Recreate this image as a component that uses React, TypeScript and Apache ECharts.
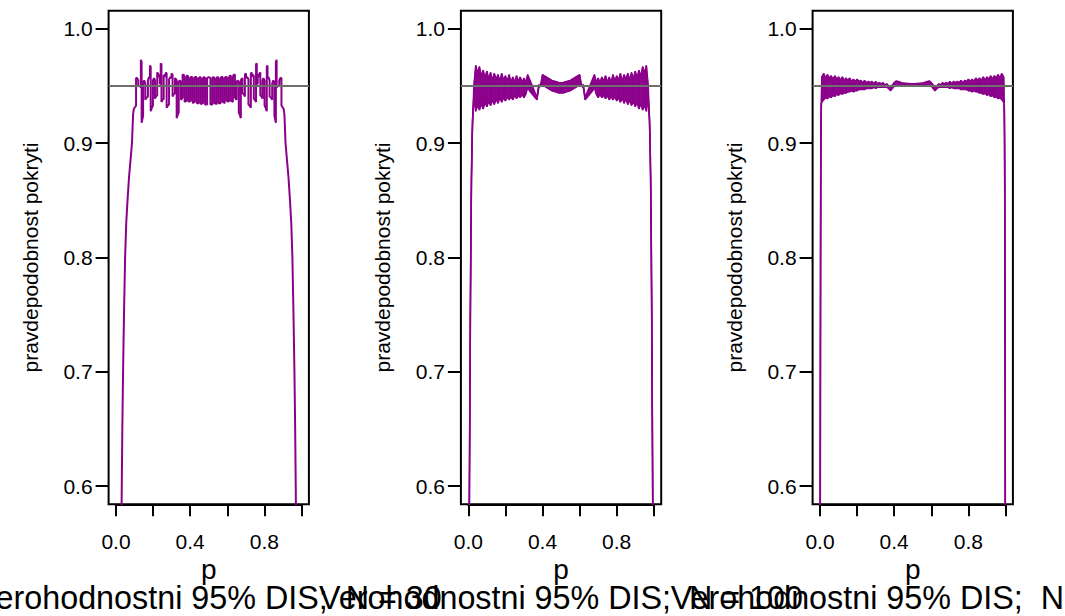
import { useEffect, useRef } from 'react';
import * as echarts from 'echarts';

const PURPLE = '#8B008B';
const GRAY = '#6E6E6E';
const FONT = '"Liberation Sans", Arial, Helvetica, sans-serif';

const panelTitles = [
  'Verohodnostni 95% DIS;  N = 30',
  'Verohodnostni 95% DIS;  N = 100',
  'Verohodnostni 95% DIS;  N = 500',
];
const xTitle = 'p';
const yTitle = 'pravdepodobnost pokryti';
const xTickValues = [0, 0.4, 0.8];
const xTickLabels = ['0.0', '0.4', '0.8'];
const yTickValues = [0.6, 0.7, 0.8, 0.9, 1.0];
const yTickLabels = ['0.6', '0.7', '0.8', '0.9', '1.0'];
const targetLevel = 0.95;

// Panel 1 (N = 30): coverage curve points [p, coverage]
const cov30: number[][] = [
  [0.029, 0.56], [0.031, 0.6], [0.034, 0.65], [0.038, 0.7], [0.043, 0.75], [0.049, 0.8], [0.055, 0.83], [0.062, 0.85],
  [0.07, 0.87], [0.078, 0.885], [0.086, 0.9], [0.092, 0.925], [0.096, 0.93],
  [0.1, 0.931], [0.104, 0.932], [0.108, 0.933], [0.108, 0.957], [0.114, 0.957], [0.12, 0.955], [0.12, 0.95], [0.127, 0.95],
  [0.134, 0.949], [0.134, 0.973], [0.138, 0.971], [0.138, 0.918], [0.142, 0.921], [0.146, 0.924], [0.146, 0.953],
  [0.152, 0.955], [0.158, 0.952], [0.158, 0.938], [0.165, 0.94], [0.172, 0.941], [0.172, 0.955], [0.178, 0.958],
  [0.183, 0.957], [0.183, 0.968], [0.187, 0.967], [0.187, 0.928], [0.193, 0.931], [0.199, 0.933], [0.199, 0.955],
  [0.205, 0.957], [0.21, 0.955], [0.21, 0.939], [0.216, 0.941], [0.222, 0.942], [0.222, 0.962], [0.23, 0.96],
  [0.236, 0.957], [0.236, 0.952], [0.241, 0.952], [0.241, 0.97], [0.245, 0.969], [0.245, 0.936], [0.251, 0.938],
  [0.257, 0.939], [0.257, 0.959], [0.263, 0.96], [0.268, 0.958], [0.268, 0.962], [0.273, 0.961], [0.273, 0.931],
  [0.28, 0.933], [0.286, 0.934], [0.286, 0.956], [0.293, 0.958], [0.299, 0.957], [0.299, 0.961], [0.305, 0.96],
  [0.305, 0.941], [0.312, 0.943], [0.318, 0.944], [0.318, 0.957], [0.324, 0.956], [0.327, 0.955], [0.327, 0.922],
  [0.333, 0.925], [0.338, 0.927], [0.338, 0.954], [0.345, 0.955], [0.35, 0.953], [0.35, 0.938], [0.355, 0.939],
  [0.359, 0.94], [0.359, 0.96], [0.365, 0.96], [0.37, 0.958], [0.37, 0.936], [0.376, 0.937], [0.381, 0.937],
  [0.381, 0.959], [0.387, 0.959], [0.392, 0.957], [0.392, 0.936], [0.398, 0.937], [0.403, 0.937], [0.403, 0.958],
  [0.409, 0.958], [0.414, 0.957], [0.414, 0.935], [0.42, 0.936], [0.425, 0.936], [0.425, 0.958], [0.431, 0.958],
  [0.436, 0.957], [0.436, 0.935], [0.442, 0.935], [0.447, 0.935], [0.447, 0.957], [0.453, 0.958], [0.458, 0.957],
  [0.458, 0.934], [0.464, 0.935], [0.469, 0.935], [0.469, 0.957], [0.475, 0.958], [0.48, 0.957], [0.48, 0.934],
  [0.486, 0.934], [0.491, 0.934], [0.491, 0.957], [0.5, 0.958],
  [0.509, 0.957], [0.509, 0.934], [0.514, 0.934], [0.52, 0.934], [0.52, 0.957], [0.525, 0.958], [0.531, 0.957],
  [0.531, 0.935], [0.536, 0.935], [0.542, 0.934], [0.542, 0.957], [0.547, 0.958], [0.553, 0.957], [0.553, 0.935],
  [0.558, 0.935], [0.564, 0.935], [0.564, 0.957], [0.569, 0.958], [0.575, 0.958], [0.575, 0.936], [0.58, 0.936],
  [0.586, 0.935], [0.586, 0.957], [0.591, 0.958], [0.597, 0.958], [0.597, 0.937], [0.602, 0.937], [0.608, 0.936],
  [0.608, 0.957], [0.613, 0.959], [0.619, 0.959], [0.619, 0.937], [0.624, 0.937], [0.63, 0.936], [0.63, 0.958],
  [0.635, 0.96], [0.641, 0.96], [0.641, 0.94], [0.645, 0.939], [0.65, 0.938], [0.65, 0.953], [0.655, 0.955],
  [0.662, 0.954], [0.662, 0.927], [0.667, 0.925], [0.673, 0.922], [0.673, 0.955], [0.676, 0.956], [0.682, 0.957],
  [0.682, 0.944], [0.688, 0.943], [0.695, 0.941], [0.695, 0.96], [0.701, 0.961], [0.701, 0.957], [0.707, 0.958],
  [0.714, 0.956], [0.714, 0.934], [0.72, 0.933], [0.727, 0.931], [0.727, 0.961], [0.732, 0.962], [0.732, 0.958],
  [0.737, 0.96], [0.743, 0.959], [0.743, 0.939], [0.749, 0.938], [0.755, 0.936], [0.755, 0.969], [0.759, 0.97],
  [0.759, 0.952], [0.764, 0.952], [0.764, 0.957], [0.77, 0.96], [0.778, 0.962], [0.778, 0.942], [0.784, 0.941],
  [0.79, 0.939], [0.79, 0.955], [0.795, 0.957], [0.801, 0.955], [0.801, 0.933], [0.807, 0.931], [0.813, 0.928],
  [0.813, 0.967], [0.817, 0.968], [0.817, 0.957], [0.822, 0.958], [0.828, 0.955], [0.828, 0.941], [0.835, 0.94],
  [0.842, 0.938], [0.842, 0.952], [0.848, 0.955], [0.854, 0.953], [0.854, 0.924], [0.858, 0.921], [0.862, 0.918],
  [0.862, 0.971], [0.866, 0.973], [0.866, 0.949], [0.873, 0.95], [0.88, 0.95], [0.88, 0.955], [0.886, 0.957],
  [0.892, 0.957], [0.892, 0.933], [0.896, 0.932], [0.9, 0.931],
  [0.904, 0.93], [0.908, 0.925], [0.914, 0.9], [0.922, 0.885], [0.93, 0.87], [0.938, 0.85], [0.945, 0.83],
  [0.951, 0.8], [0.957, 0.75], [0.962, 0.7], [0.966, 0.65], [0.969, 0.6], [0.971, 0.56],
];

// Panel 2 (N = 100): lower and upper envelope of the rapidly oscillating coverage
const p100 = [
  0.005, 0.008, 0.011, 0.014, 0.017, 0.02, 0.023, 0.026,
  0.03, 0.04, 0.05, 0.06, 0.07, 0.08, 0.09, 0.1, 0.11, 0.12, 0.13, 0.14, 0.15, 0.16, 0.17, 0.18, 0.19, 0.2,
  0.21, 0.22, 0.23, 0.24, 0.25, 0.26, 0.27, 0.28, 0.29, 0.3, 0.31, 0.32, 0.33, 0.34, 0.35, 0.36, 0.37, 0.38,
  0.39, 0.4, 0.41, 0.42, 0.43, 0.44, 0.45, 0.46, 0.47, 0.48, 0.49, 0.5,
  0.51, 0.52, 0.53, 0.54, 0.55, 0.56, 0.57, 0.58, 0.59, 0.6, 0.61, 0.62, 0.63, 0.64, 0.65, 0.66, 0.67, 0.68,
  0.69, 0.7, 0.71, 0.72, 0.73, 0.74, 0.75, 0.76, 0.77, 0.78, 0.79, 0.8, 0.81, 0.82, 0.83, 0.84, 0.85, 0.86,
  0.87, 0.88, 0.89, 0.9, 0.91, 0.92, 0.93, 0.94, 0.95, 0.96, 0.97,
  0.974, 0.977, 0.98, 0.983, 0.986, 0.989, 0.992, 0.995,
];
const hi100 = [
  0.57, 0.66, 0.75, 0.82, 0.87, 0.9, 0.92, 0.93,
  0.95, 0.968, 0.961, 0.967, 0.958, 0.964, 0.957, 0.963, 0.956, 0.962,
  0.955, 0.961, 0.956, 0.96, 0.954, 0.961, 0.955, 0.959, 0.954, 0.96,
  0.953, 0.958, 0.953, 0.959, 0.954, 0.958, 0.953, 0.957, 0.953, 0.96,
  0.956, 0.952, 0.948, 0.944, 0.94, 0.951, 0.951, 0.96, 0.959, 0.958,
  0.957, 0.956, 0.955, 0.9545, 0.954, 0.9535, 0.953, 0.953,
  0.953, 0.9535, 0.954, 0.9545, 0.955, 0.956, 0.957,
  0.958, 0.959, 0.96, 0.951, 0.951, 0.94, 0.944, 0.948, 0.952, 0.956,
  0.96, 0.953, 0.957, 0.953, 0.958, 0.954, 0.959, 0.953, 0.958, 0.953,
  0.96, 0.954, 0.959, 0.955, 0.961, 0.954, 0.96, 0.956, 0.961, 0.955,
  0.962, 0.956, 0.963, 0.957, 0.964, 0.958, 0.967, 0.961, 0.968, 0.95,
  0.93, 0.92, 0.9, 0.87, 0.82, 0.75, 0.66, 0.57,
];
const lo100 = [
  0.57, 0.66, 0.75, 0.82, 0.87, 0.9, 0.92, 0.93,
  0.94, 0.928, 0.934, 0.929, 0.935, 0.93, 0.936, 0.932, 0.937, 0.933,
  0.938, 0.934, 0.939, 0.935, 0.94, 0.936, 0.94, 0.937, 0.941, 0.938,
  0.941, 0.938, 0.942, 0.939, 0.942, 0.94, 0.943, 0.94, 0.943, 0.949,
  0.946, 0.944, 0.942, 0.94, 0.938, 0.949, 0.95, 0.951, 0.95, 0.949,
  0.948, 0.947, 0.946, 0.9455, 0.945, 0.9445, 0.944, 0.944,
  0.944, 0.9445, 0.945, 0.9455, 0.946, 0.947, 0.948,
  0.949, 0.95, 0.951, 0.95, 0.949, 0.938, 0.94, 0.942, 0.944, 0.946,
  0.949, 0.943, 0.94, 0.943, 0.94, 0.942, 0.939, 0.942, 0.938, 0.941,
  0.938, 0.941, 0.937, 0.94, 0.936, 0.94, 0.935, 0.939, 0.934, 0.938,
  0.933, 0.937, 0.932, 0.936, 0.93, 0.935, 0.929, 0.934, 0.928, 0.94,
  0.93, 0.92, 0.9, 0.87, 0.82, 0.75, 0.66, 0.57,
];

// Panel 3 (N = 500)
const p500 = [
  0.001, 0.002, 0.003, 0.004, 0.005, 0.006, 0.007,
  0.01, 0.02, 0.03, 0.04, 0.05, 0.06, 0.07, 0.08, 0.09, 0.1, 0.11, 0.12, 0.13, 0.14, 0.15, 0.16, 0.17, 0.18,
  0.19, 0.2, 0.21, 0.22, 0.23, 0.24, 0.25, 0.26, 0.27, 0.28, 0.29, 0.3, 0.31, 0.32, 0.33, 0.34, 0.35, 0.36,
  0.37, 0.38, 0.39, 0.4, 0.41, 0.42, 0.43, 0.44, 0.45, 0.46, 0.47, 0.48, 0.49, 0.5,
  0.51, 0.52, 0.53, 0.54, 0.55, 0.56, 0.57, 0.58, 0.59, 0.6, 0.61, 0.62, 0.63, 0.64, 0.65, 0.66, 0.67, 0.68,
  0.69, 0.7, 0.71, 0.72, 0.73, 0.74, 0.75, 0.76, 0.77, 0.78, 0.79, 0.8, 0.81, 0.82, 0.83, 0.84, 0.85, 0.86,
  0.87, 0.88, 0.89, 0.9, 0.91, 0.92, 0.93, 0.94, 0.95, 0.96, 0.97, 0.98, 0.99,
  0.993, 0.994, 0.995, 0.996, 0.997, 0.998, 0.999,
];
const hi500 = [
  0.57, 0.7, 0.8, 0.87, 0.905, 0.925, 0.935,
  0.958, 0.961, 0.957, 0.96, 0.957, 0.959, 0.956, 0.959, 0.956, 0.958,
  0.955, 0.958, 0.955, 0.957, 0.955, 0.957, 0.954, 0.956, 0.954, 0.956,
  0.954, 0.955, 0.953, 0.955, 0.953, 0.954, 0.953, 0.954, 0.952, 0.954,
  0.952, 0.953, 0.952, 0.953, 0.951, 0.952, 0.95, 0.948, 0.951, 0.953,
  0.9545, 0.954, 0.9535, 0.953, 0.9527, 0.9525, 0.9523, 0.9522, 0.9521, 0.9521,
  0.9521, 0.9522, 0.9523, 0.9525, 0.9527, 0.953, 0.9535, 0.954, 0.9545,
  0.953, 0.951, 0.948, 0.95, 0.952, 0.951, 0.953, 0.952, 0.953, 0.952,
  0.954, 0.952, 0.954, 0.953, 0.954, 0.953, 0.955, 0.953, 0.955, 0.954,
  0.956, 0.954, 0.956, 0.954, 0.957, 0.955, 0.957, 0.955, 0.958, 0.955,
  0.958, 0.956, 0.959, 0.956, 0.959, 0.957, 0.96, 0.957, 0.961, 0.958,
  0.935, 0.925, 0.905, 0.87, 0.8, 0.7, 0.57,
];
const lo500 = [
  0.57, 0.7, 0.8, 0.87, 0.905, 0.925, 0.935,
  0.936, 0.938, 0.94, 0.939, 0.941, 0.94, 0.942, 0.941, 0.943, 0.942,
  0.944, 0.943, 0.944, 0.944, 0.945, 0.945, 0.946, 0.945, 0.946, 0.946,
  0.947, 0.947, 0.947, 0.947, 0.948, 0.948, 0.948, 0.948, 0.949, 0.948,
  0.949, 0.949, 0.949, 0.949, 0.949, 0.949, 0.948, 0.946, 0.948, 0.95,
  0.9505, 0.9505, 0.9505, 0.9505, 0.9505, 0.9505, 0.9505, 0.9505, 0.9505, 0.9505,
  0.9505, 0.9505, 0.9505, 0.9505, 0.9505, 0.9505, 0.9505, 0.9505, 0.9505,
  0.95, 0.948, 0.946, 0.948, 0.949, 0.949, 0.949, 0.949, 0.949, 0.949,
  0.948, 0.949, 0.948, 0.948, 0.948, 0.948, 0.947, 0.947, 0.947, 0.947,
  0.946, 0.946, 0.945, 0.946, 0.945, 0.945, 0.944, 0.944, 0.943, 0.944,
  0.942, 0.943, 0.941, 0.942, 0.94, 0.941, 0.939, 0.94, 0.938, 0.936,
  0.935, 0.925, 0.905, 0.87, 0.8, 0.7, 0.57,
];

// Layout (pixels)
const BOX_LEFT = [108.6, 460.9, 812.6];
const BOX_TOP = 10.7;
const BOX_W = 200.3;
const BOX_H = 493.6;
const X_MIN = -0.04, X_MAX = 1.04;
const Y_MIN = 0.584, Y_MAX = 1.016;
const PX_X = BOX_W / (X_MAX - X_MIN);
const PX_Y = BOX_H / (Y_MAX - Y_MIN);

function pairs(p: number[], v: number[]) {
  return p.map((x, i) => [x, v[i]]);
}
function bandItems(p: number[], lo: number[], hi: number[]) {
  const out: number[][] = [];
  for (let i = 0; i < p.length - 1; i++) out.push([p[i], lo[i], hi[i], p[i + 1], lo[i + 1], hi[i + 1]]);
  return out;
}

const markLine = {
  silent: true,
  symbol: ['none', 'none'],
  label: { show: false },
  lineStyle: { color: GRAY, width: 2, type: 'solid' },
  data: [{ yAxis: targetLevel }],
  z: 6,
};

export default function App() {
  const ref = useRef<HTMLDivElement>(null);
  useEffect(() => {
    document.body.style.margin = '0';
    const chart = echarts.init(ref.current!, undefined, { renderer: 'svg' });
    const grid: any[] = [];
    const xAxis: any[] = [];
    const yAxis: any[] = [];
    const graphic: any[] = [];
    for (let i = 0; i < 3; i++) {
      grid.push({ left: BOX_LEFT[i], top: BOX_TOP, width: BOX_W, height: BOX_H, show: true, borderColor: '#000', borderWidth: 2, backgroundColor: 'transparent' });
      xAxis.push({ gridIndex: i, type: 'value', min: X_MIN, max: X_MAX, show: false });
      yAxis.push({ gridIndex: i, type: 'value', min: Y_MIN, max: Y_MAX, show: false });
    }
    for (let i = 0; i < 3; i++) {
      const tl = BOX_LEFT[i] + (0 - X_MIN) * PX_X;
      const tt = BOX_TOP + (Y_MAX - 1.0) * PX_Y;
      grid.push({ left: tl, top: tt, width: PX_X, height: 0.4 * PX_Y, show: false });
      xAxis.push({
        gridIndex: 3 + i, type: 'value', min: 0, max: 1, interval: 0.2, position: 'bottom',
        offset: BOX_TOP + BOX_H - (tt + 0.4 * PX_Y),
        axisLine: { show: true, onZero: false, lineStyle: { color: '#000', width: 2 } },
        axisTick: { show: true, length: 12, lineStyle: { color: '#000', width: 2 } },
        splitLine: { show: false },
        axisLabel: {
          margin: 27, color: '#000', fontSize: 21, fontFamily: FONT,
          formatter: (v: number) => {
            const k = xTickValues.findIndex((t) => Math.abs(t - v) < 1e-6);
            return k >= 0 ? xTickLabels[k] : '';
          },
        },
      });
      yAxis.push({
        gridIndex: 3 + i, type: 'value', min: 0.6, max: 1.0, interval: 0.1, position: 'left',
        offset: tl - BOX_LEFT[i],
        axisLine: { show: false, onZero: false },
        axisTick: { show: true, length: 13, lineStyle: { color: '#000', width: 2 } },
        splitLine: { show: false },
        axisLabel: {
          margin: 16, color: '#000', fontSize: 21, fontFamily: FONT,
          formatter: (v: number) => {
            const k = yTickValues.findIndex((t) => Math.abs(t - v) < 1e-6);
            return k >= 0 ? yTickLabels[k] : '';
          },
        },
      });
      const cx = BOX_LEFT[i] + BOX_W / 2;
      graphic.push({ type: 'text', x: cx, y: 569, style: { text: xTitle, fontSize: 28, fontFamily: FONT, fill: '#000', align: 'center', verticalAlign: 'middle' } });
      graphic.push({ type: 'text', x: cx, y: 598, style: { text: panelTitles[i], fontSize: 32.3, fontFamily: FONT, fill: '#000', align: 'center', verticalAlign: 'middle' } });
      graphic.push({ type: 'text', x: BOX_LEFT[i] - 78, y: BOX_TOP + BOX_H / 2, rotation: Math.PI / 2, style: { text: yTitle, fontSize: 21, fontFamily: FONT, fill: '#000', align: 'center', verticalAlign: 'middle' } });
    }

    const renderBand = (params: any, api: any) => {
      const a = api.coord([api.value(0), api.value(1)]);
      const b = api.coord([api.value(0), api.value(2)]);
      const c = api.coord([api.value(3), api.value(5)]);
      const d = api.coord([api.value(3), api.value(4)]);
      return { type: 'polygon', shape: { points: [a, b, c, d] }, style: { fill: PURPLE, stroke: PURPLE, lineWidth: 0.8 } };
    };

    const lineBase = { type: 'line', showSymbol: false, symbol: 'none', clip: true, animation: false, silent: true };
    const series: any[] = [
      { ...lineBase, xAxisIndex: 0, yAxisIndex: 0, data: cov30, lineStyle: { color: PURPLE, width: 2 }, markLine },
      { type: 'custom', xAxisIndex: 1, yAxisIndex: 1, data: bandItems(p100, lo100, hi100), renderItem: renderBand, clip: true, silent: true },
      { ...lineBase, xAxisIndex: 1, yAxisIndex: 1, data: pairs(p100, lo100), lineStyle: { color: PURPLE, width: 1.6 }, markLine },
      { ...lineBase, xAxisIndex: 1, yAxisIndex: 1, data: pairs(p100, hi100), lineStyle: { color: PURPLE, width: 1.6 } },
      { type: 'custom', xAxisIndex: 2, yAxisIndex: 2, data: bandItems(p500, lo500, hi500), renderItem: renderBand, clip: true, silent: true },
      { ...lineBase, xAxisIndex: 2, yAxisIndex: 2, data: pairs(p500, lo500), lineStyle: { color: PURPLE, width: 1.6 }, markLine },
      { ...lineBase, xAxisIndex: 2, yAxisIndex: 2, data: pairs(p500, hi500), lineStyle: { color: PURPLE, width: 1.6 } },
    ];

    chart.setOption({ animation: false, backgroundColor: '#fff', grid, xAxis, yAxis, series, graphic });
    return () => chart.dispose();
  }, []);
  return <div ref={ref} style={{ position: 'absolute', left: 0, top: 0, width: 1065, height: 616 }} />;
}
